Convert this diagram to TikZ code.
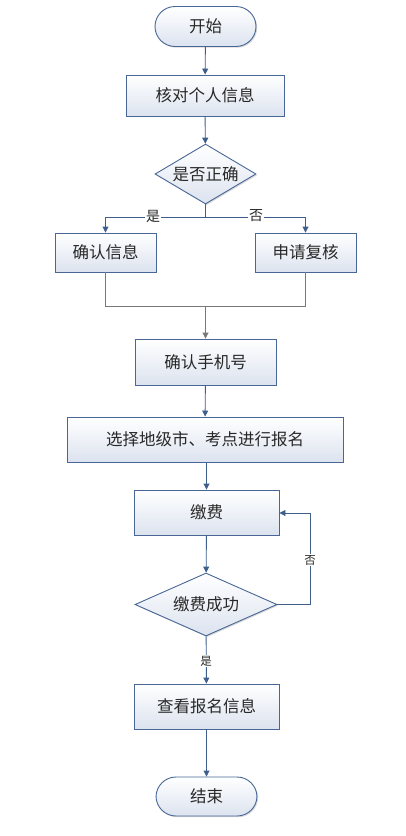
\documentclass[tikz,border=0pt]{standalone}
\usepackage{fontspec}
\newfontfamily\cjk{Noto Sans CJK SC}
\usetikzlibrary{arrows.meta,shapes.geometric,shadows}
\definecolor{bord}{RGB}{72,103,150}
\definecolor{lnk}{RGB}{62,94,140}
\definecolor{grl}{RGB}{120,120,120}
\definecolor{botc}{RGB}{220,227,239}
\definecolor{txt}{RGB}{40,40,40}
\tikzset{
  base/.style={draw=bord, line width=0.9pt, top color=white, bottom color=botc,
    text=txt, font=\cjk\fontsize{16.5}{19}\selectfont, inner sep=0pt,
    drop shadow={shadow xshift=1.2pt, shadow yshift=-1.2pt, fill=black!25, opacity=0.6}},
  proc/.style={base, rectangle},
  term/.style={base, rounded corners=20pt, rectangle},
  dec/.style={base, diamond, aspect=1.7},
  conn/.style={draw=lnk, line width=0.9pt, -{Triangle[width=6pt,length=6pt]}},
  gconn/.style={draw=grl, line width=0.9pt},
  lab/.style={font=\cjk\fontsize{14}{16}\selectfont, text=txt, fill=white, inner sep=1pt},
  slab/.style={font=\cjk\fontsize{11.5}{13}\selectfont, text=txt, fill=white, inner sep=1pt}
}
\begin{document}
\begin{tikzpicture}[x=1pt,y=-1pt]
\useasboundingbox (0,0) rectangle (406,836);
\node[term, minimum width=101pt, minimum height=40pt] (start) at (205.5,26.5) {开始};
\node[proc, minimum width=158pt, minimum height=41pt] (chk) at (205,95.5) {核对个人信息};
\node[dec, minimum width=101pt, minimum height=60pt] (ok) at (205.5,174) {是否正确};
\node[proc, minimum width=101pt, minimum height=39pt] (conf) at (105.5,252.5) {确认信息};
\node[proc, minimum width=101pt, minimum height=39pt] (rev) at (305.5,252.5) {申请复核};
\node[proc, minimum width=141pt, minimum height=46pt] (phone) at (205.5,362) {确认手机号};
\node[proc, minimum width=276pt, minimum height=45pt] (sel) at (205,439.5) {选择地级市、考点进行报名};
\node[proc, minimum width=145pt, minimum height=45pt] (pay) at (206.5,512.5) {缴费};
\node[dec, minimum width=142pt, minimum height=63pt] (paid) at (206,604.5) {缴费成功};
\node[proc, minimum width=145pt, minimum height=45pt] (view) at (206.5,706.5) {查看报名信息};
\node[term, minimum width=101pt, minimum height=39pt] (end) at (206.5,796.5) {结束};
\coordinate (bl) at (105.5,217);
\coordinate (br) at (305.5,217);
\coordinate (ml) at (105.5,306);
\coordinate (mr) at (305.5,306);
\coordinate (mm) at (205.5,306);
\coordinate (lr) at (310,604.5);
\coordinate (lt) at (310,513);
\draw[conn] (start) -- (chk);
\draw[conn] (chk) -- (ok);
\draw[conn] (ok.south) |- (bl) -- (conf);
\draw[conn] (ok.south) |- (br) -- (rev);
\node[lab] (yes1) at (153,216) {是};
\node[lab] (no1) at (256,216) {否};
\draw[gconn] (conf) -- (ml) -- (mr) -- (rev);
\draw[gconn, -{Triangle[width=6pt,length=6pt]}] (mm) -- (phone);
\draw[conn] (phone) -- (sel);
\draw[conn] (sel.south -| pay) -- (pay);
\draw[conn] (pay) -- (paid);
\draw[conn] (paid.east) -- (lr) -- (lt) -- (pay.east |- lt);
\node[slab] (no2) at (310,560) {否};
\draw[conn] (paid) -- (view);
\node[slab] (yes2) at (206,661) {是};
\draw[conn] (view) -- (end);
\end{tikzpicture}
\end{document}
